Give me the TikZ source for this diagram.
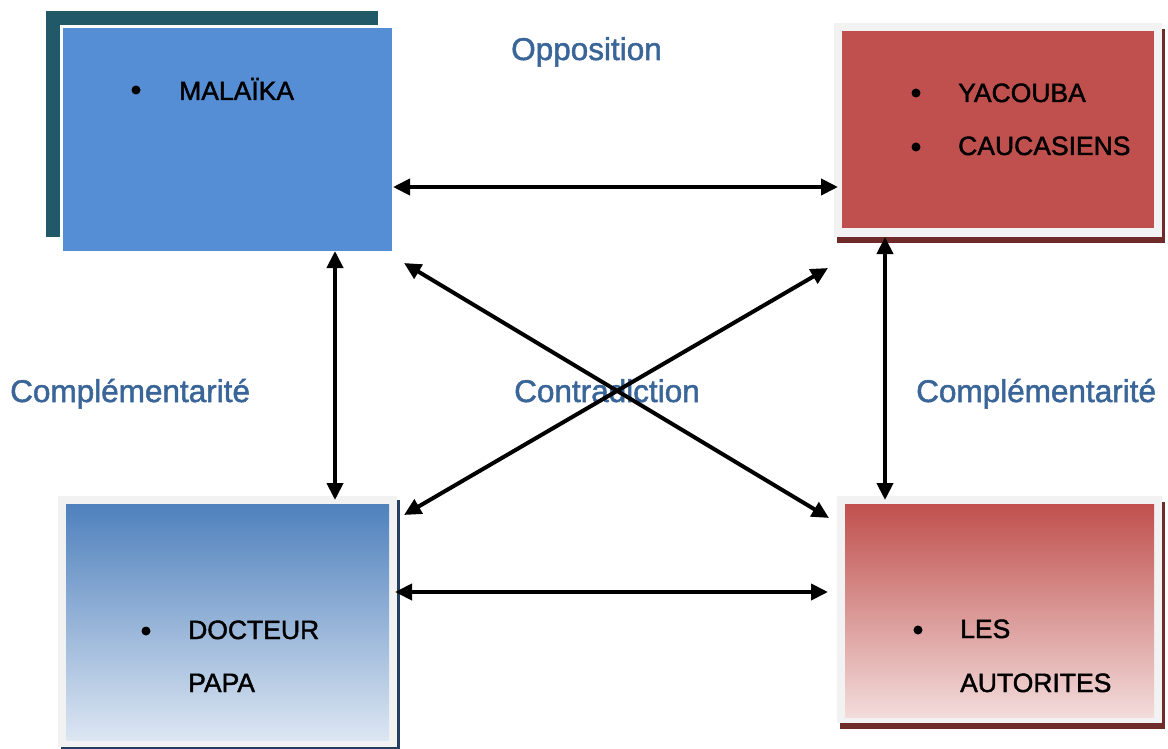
\documentclass[tikz,border=0pt]{standalone}
\usepackage{fontspec}
\setmainfont{Liberation Sans}
\newfontfamily\thickfont{Liberation Sans}[FakeBold=1.6]
\usetikzlibrary{arrows.meta}
\definecolor{tealdark}{HTML}{215968}
\definecolor{bluebox}{HTML}{558ED5}
\definecolor{redbox}{HTML}{C0504D}
\definecolor{redshadow}{HTML}{6F2B29}
\definecolor{blueshadow}{HTML}{243F60}
\definecolor{framegray}{HTML}{F2F2F2}
\definecolor{labelblue}{HTML}{3A6598}
\definecolor{bluetop}{HTML}{4F81BD}
\definecolor{bluebot}{HTML}{DCE6F2}
\definecolor{redbot}{HTML}{F2DCDB}
\begin{document}
\begin{tikzpicture}[x=1pt,y=-1pt,
  boxtext/.style={font=\thickfont\fontsize{26.5}{30}\selectfont, anchor=base west, inner sep=0pt},
  lbl/.style={font=\thickfont\fontsize{31.5}{36}\selectfont, text=labelblue, anchor=base west, inner sep=0pt},
  link/.style={line width=4pt, {Triangle[length=17pt,width=16pt]}-{Triangle[length=17pt,width=16pt]}},
  bul/.style={circle, fill=black, inner sep=0pt, minimum size=9pt}]
\useasboundingbox (0,0) rectangle (1168,749);

% ---- top-left box (MALAIKA)
\fill[tealdark] (46,11) rectangle (378,237);
\fill[white] (60,25) rectangle (392,251);
\fill[bluebox] (63,28) rectangle (392,251);
\node[bul] (tlb) at (136,90) {};
\node[boxtext] (tlt) at (179,100) {MALAÏKA};

% ---- top-right box (YACOUBA)
\fill[redshadow] (837,29) rectangle (1165,243);
\fill[framegray] (834,23) rectangle (1162,237);
\fill[redbox] (842,31) rectangle (1154,228);
\node[bul] (trb1) at (916,93) {};
\node[boxtext] (trt1) at (958,102) {YACOUBA};
\node[bul] (trb2) at (916,147) {};
\node[boxtext] (trt2) at (958,155) {CAUCASIENS};

% ---- bottom-left box (DOCTEUR PAPA)
\fill[blueshadow] (61,500) rectangle (400,749);
\fill[framegray] (58,496) rectangle (397,747);
\shade[top color=bluetop, middle color=bluetop!55!bluebot, bottom color=bluebot] (66,504) rectangle (389,740);
\node[bul] (blb) at (146,631) {};
\node[boxtext] (blt1) at (188,639) {DOCTEUR};
\node[boxtext] (blt2) at (188,692) {PAPA};

% ---- bottom-right box (LES AUTORITES)
\fill[redshadow] (840,502) rectangle (1165,729);
\fill[framegray] (837,496) rectangle (1162,723);
\shade[top color=redbox, middle color=redbox!55!redbot, bottom color=redbot] (845,504) rectangle (1154,717);
\node[bul] (brb) at (918,630) {};
\node[boxtext] (brt1) at (960,638) {LES};
\node[boxtext] (brt2) at (960,692) {AUTORITES};

% ---- labels
\node[lbl] (opp) at (511,60) {Opposition};
\node[lbl] (compl) at (10,402) {Complémentarité};
\node[lbl] (contr) at (514,402) {Contradiction};
\node[lbl] (compr) at (916,402) {Complémentarité};

% ---- connector end points
\coordinate (h1a) at (393,187);
\coordinate (h1b) at (838,187);
\coordinate (h2a) at (395,592);
\coordinate (h2b) at (828,592);
\coordinate (v1a) at (335,251);
\coordinate (v1b) at (335,500);
\coordinate (v2a) at (885,237);
\coordinate (v2b) at (885,500);
\coordinate (d1a) at (404,263);
\coordinate (d1b) at (829,518);
\coordinate (d2a) at (828,268);
\coordinate (d2b) at (404,515);

\draw[link] (h1a) -- (h1b);
\draw[link] (h2a) -- (h2b);
\draw[link] (v1a) -- (v1b);
\draw[link] (v2a) -- (v2b);
\draw[link] (d1a) -- (d1b);
\draw[link] (d2a) -- (d2b);
\end{tikzpicture}
\end{document}
